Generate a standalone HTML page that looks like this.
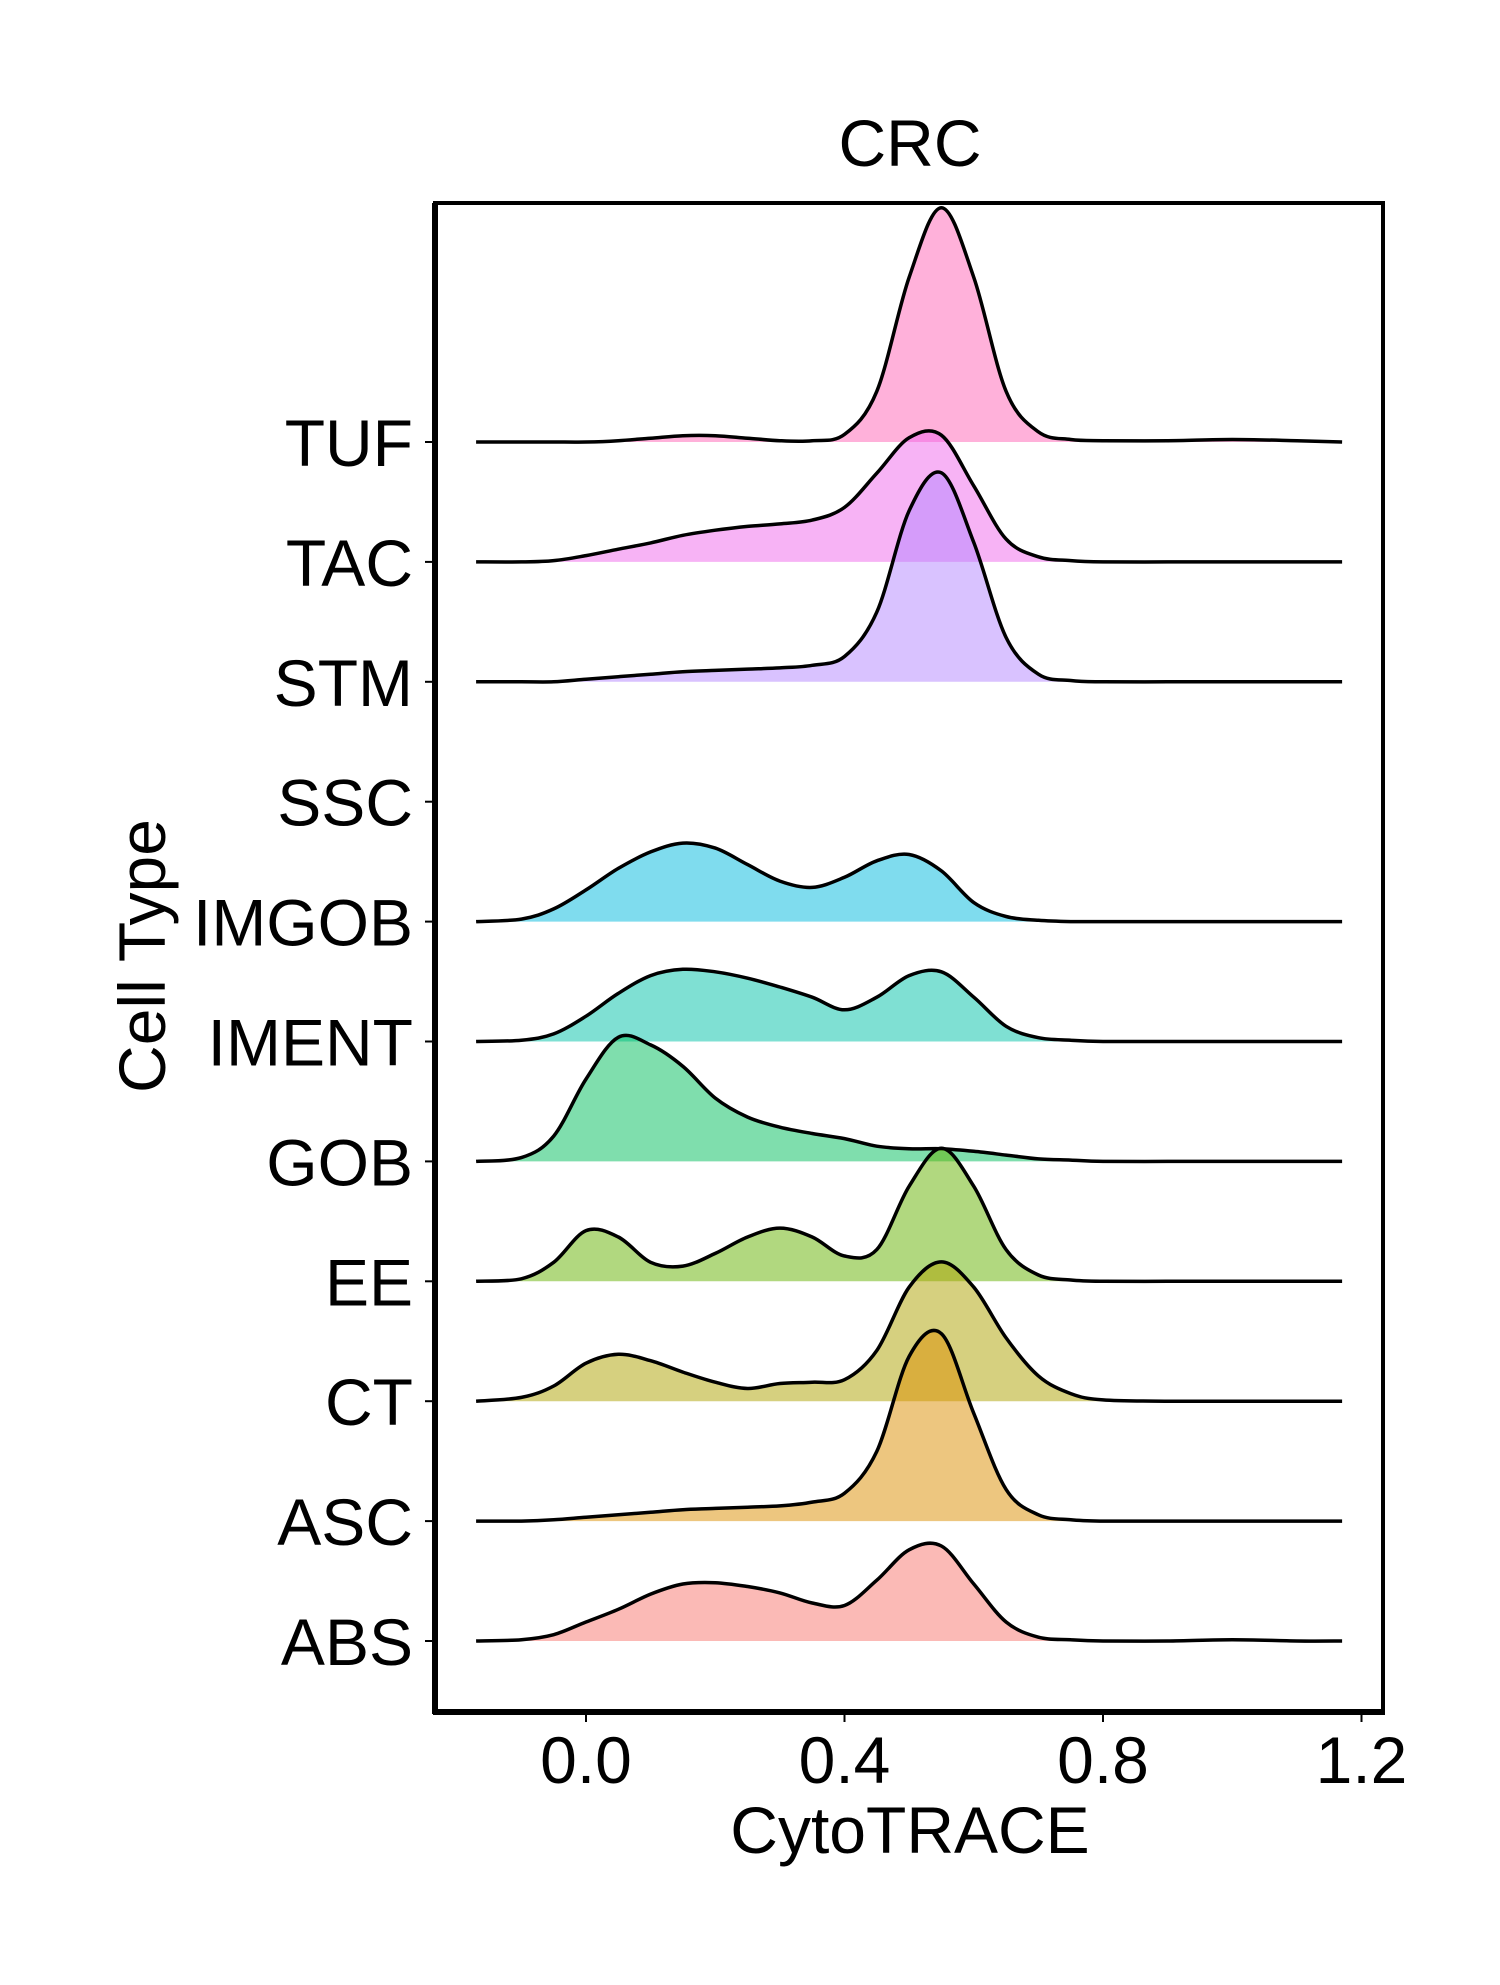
<!DOCTYPE html>
<html><head><meta charset="utf-8"><style>
body{margin:0;background:#fff;}
svg text{font-family:"Liberation Sans",sans-serif;}
</style></head><body>
<svg id="chart" width="1500" height="1980" viewBox="0 0 1500 1980" xmlns="http://www.w3.org/2000/svg">
<text x="910" y="166" font-size="66" text-anchor="middle">CRC</text>
<g id="ridges"></g>
<rect x="435" y="203" width="948" height="1509" fill="none" stroke="#000" stroke-width="4"/>
<line x1="435" y1="203" x2="435" y2="1714" stroke="#000" stroke-width="6"/>
<line x1="433" y1="1712" x2="1385" y2="1712" stroke="#000" stroke-width="6"/>
<g id="xticks"></g>
<g id="yticks"></g>
<text x="910" y="1853" font-size="66" text-anchor="middle">CytoTRACE</text>
<text transform="translate(165,956) rotate(-90)" font-size="66" text-anchor="middle">Cell Type</text>
</svg>
<script>
const categories = ["ABS","ASC","CT","EE","GOB","IMENT","IMGOB","SSC","STM","TAC","TUF"];
const colors = ["#F8766D","#DB8E00","#AEA200","#64B200","#00BD5C","#00C1A7","#00BADE","#00A6FF","#B385FF","#EF67EB","#FF63B6"];
const xGrid = [-0.17,-0.1,-0.05,0,0.05,0.1,0.15,0.2,0.25,0.3,0.35,0.4,0.45,0.5,0.55,0.6,0.65,0.7,0.75,0.8,0.9,1.0,1.1,1.17];
const xTicks = [0.0,0.4,0.8,1.2];
const xTickLabels = ["0.0","0.4","0.8","1.2"];
const dABS   = [0,1,5,15,25,37,45,46,43,38,30,28,48,72,75,45,15,3,1,0,0,1,0,0];
const dASC   = [0,0,1,3,5,7,9,10,11,12,15,22,55,130,148,85,25,5,1,0,0,0,0,0];
const dCT    = [0,3,12,30,37,32,23,15,10,14,15,17,40,90,110,90,50,20,6,1,0,0,0,0];
const dEE    = [0,2,15,40,35,15,12,22,35,42,35,20,25,75,105,75,25,5,1,0,0,0,0,0];
const dGOB   = [0,3,20,65,98,92,75,50,35,27,22,18,12,10,10,8,5,2,1,0,0,0,0,0];
const dIMENT = [0,1,6,20,38,52,57,55,50,43,35,25,35,52,55,35,12,3,1,0,0,0,0,0];
const dIMGOB = [0,2,10,25,42,55,62,58,45,32,27,35,48,53,40,15,4,1,0,0,0,0,0,0];
const dSSC   = null;
const dSTM   = [0,0,0,2,4,6,8,9,10,11,13,20,55,135,165,110,35,6,1,0,0,0,0,0];
const dTAC   = [0,0,1,5,10,15,21,25,28,30,33,43,70,98,100,60,18,4,1,0,0,0,0,0];
const dTUF   = [0,0,0,0,1,3,5,5,3,1,1,6,40,130,185,130,40,8,2,1,1,2,1,0];
const densities = [dABS,dASC,dCT,dEE,dGOB,dIMENT,dIMGOB,dSSC,dSTM,dTAC,dTUF];

const NS="http://www.w3.org/2000/svg";
function xScale(v){return 586 + v*(1361.5-586)/1.2;}
function rowBase(i){return 1641 - i*119.9;}
function hScale(d){return d*1.2665;}

function smoothPath(pts){
  let s="M"+pts[0][0].toFixed(1)+","+pts[0][1].toFixed(1);
  for(let i=0;i<pts.length-1;i++){
    const p0=pts[Math.max(0,i-1)],p1=pts[i],p2=pts[i+1],p3=pts[Math.min(pts.length-1,i+2)];
    const c1=[p1[0]+(p2[0]-p0[0])/6,p1[1]+(p2[1]-p0[1])/6];
    const c2=[p2[0]-(p3[0]-p1[0])/6,p2[1]-(p3[1]-p1[1])/6];
    s+=" C"+c1[0].toFixed(1)+","+c1[1].toFixed(1)+" "+c2[0].toFixed(1)+","+c2[1].toFixed(1)+" "+p2[0].toFixed(1)+","+p2[1].toFixed(1);
  }
  return s;
}

const ridges=document.getElementById('ridges');
for(let i=categories.length-1;i>=0;i--){
  const d=densities[i]; if(!d) continue;
  const base=rowBase(i);
  const pts=xGrid.map((x,k)=>[xScale(x),base-hScale(d[k])]);
  const line=smoothPath(pts);
  const area=document.createElementNS(NS,'path');
  area.setAttribute('d',line+" L"+xScale(xGrid[xGrid.length-1])+","+base+" L"+xScale(xGrid[0])+","+base+" Z");
  area.setAttribute('fill',colors[i]);area.setAttribute('fill-opacity','0.5');
  
  
  ridges.appendChild(area);
  const ln=document.createElementNS(NS,'path');
  ln.setAttribute('d',line);ln.setAttribute('fill','none');ln.setAttribute('stroke','#000');ln.setAttribute('stroke-width','3.5');
  
  
  ridges.appendChild(ln);
}
const yt=document.getElementById('yticks');
categories.forEach((c,i)=>{
  const y=rowBase(i);
  const t=document.createElementNS(NS,'line');
  t.setAttribute('x1',425);t.setAttribute('x2',435);t.setAttribute('y1',y);t.setAttribute('y2',y);t.setAttribute('stroke','#000');t.setAttribute('stroke-width','2');
  
  
  yt.appendChild(t);
  const tx=document.createElementNS(NS,'text');
  tx.setAttribute('x',413);tx.setAttribute('y',y+24);tx.setAttribute('font-size','66');tx.setAttribute('text-anchor','end');
  tx.textContent=c;
  
  
  yt.appendChild(tx);
});
const xt=document.getElementById('xticks');
xTicks.forEach((v,i)=>{
  const x=xScale(v);
  const t=document.createElementNS(NS,'line');
  t.setAttribute('x1',x);t.setAttribute('x2',x);t.setAttribute('y1',1712);t.setAttribute('y2',1722);t.setAttribute('stroke','#000');t.setAttribute('stroke-width','2');
  
  
  xt.appendChild(t);
  const tx=document.createElementNS(NS,'text');
  tx.setAttribute('x',x);tx.setAttribute('y',1783);tx.setAttribute('font-size','66');tx.setAttribute('text-anchor','middle');
  tx.textContent=xTickLabels[i];
  
  
  xt.appendChild(tx);
});
</script>
</body></html>
